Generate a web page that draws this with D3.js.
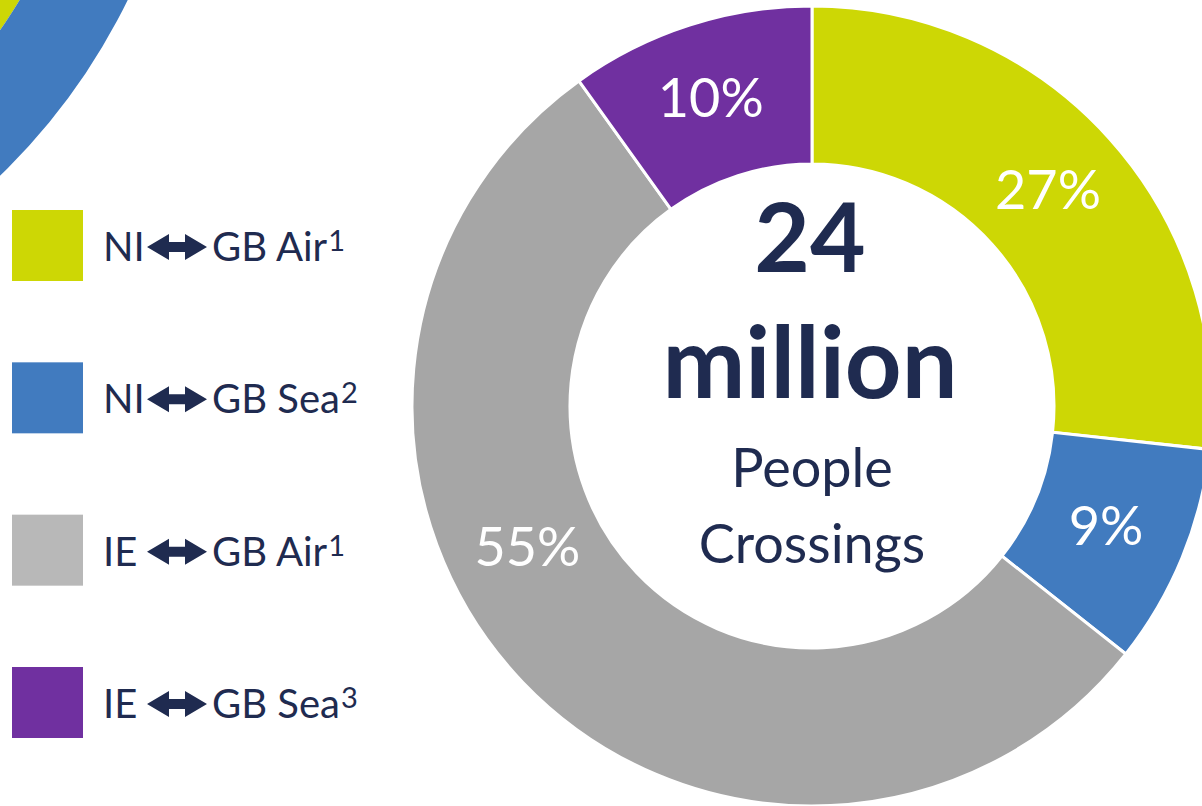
<!DOCTYPE html>
<html lang="en">
<head>
    <meta charset="UTF-8" />
    <title>People Crossings</title>
    <script src="https://d3js.org/d3.v7.min.js"></script>
    <style>
        body {
            margin: 0;
            background: #ffffff;
            font-family: Lato, "Open Sans", sans-serif;
        }
        svg {
            display: block;
        }
    </style>
</head>
<body>
<div id="chart"></div>

<script>
    // Chart data
    const origins = ["NI", "NI", "IE", "IE"];
    const routes = ["GB Air", "GB Sea", "GB Air", "GB Sea"];
    const footnotes = ["1", "2", "1", "3"];
    const shares = [27, 9, 55, 10];
    const totalLines = ["24", "million"];
    const subtitleLines = ["People", "Crossings"];

    const sliceColors = ["#cdd705", "#417bbf", "#a6a6a6", "#7030a0"];
    const legendColors = ["#cdd705", "#417bbf", "#b8b8b8", "#7030a0"];
    const navy = "#1f2b50";

    const width = 1202, height = 806;
    const cx = 812, cy = 406;
    const outerR = 400, innerR = 242;

    const svg = d3.select("#chart").append("svg")
        .attr("width", width)
        .attr("height", height);

    // Decorative rings peeking in from the top-left corner
    const deco = svg.append("g").attr("transform", "translate(-434,-274)");
    deco.append("path")
        .attr("d", d3.arc()({ innerRadius: 440, outerRadius: 530, startAngle: 0, endAngle: 2 * Math.PI }))
        .attr("fill", sliceColors[0]);
    deco.append("path")
        .attr("d", d3.arc()({ innerRadius: 530, outerRadius: 625, startAngle: 0, endAngle: 2 * Math.PI }))
        .attr("fill", sliceColors[1]);

    // Donut
    const pie = d3.pie().sort(null).value(d => d);
    const arcs = pie(shares);
    const arc = d3.arc().innerRadius(innerR).outerRadius(outerR);
    const labelR = (innerR + outerR) / 2;

    const gDonut = svg.append("g").attr("transform", `translate(${cx},${cy})`);

    gDonut.selectAll("path.slice")
        .data(arcs)
        .join("path")
        .attr("class", "slice")
        .attr("d", arc)
        .attr("fill", (d, i) => sliceColors[i])
        .attr("stroke", "#ffffff")
        .attr("stroke-width", 3)
        .attr("stroke-linejoin", "miter");

    // label position: middle of the ring; the big slice label sits lower-left like the source
    function labelPos(d, i) {
        let a = (d.startAngle + d.endAngle) / 2;
        let r = labelR;
        if (shares[i] === d3.max(shares)) {
            a = 243 * Math.PI / 180;
            r = 316;
        }
        return [r * Math.sin(a), -r * Math.cos(a)];
    }

    gDonut.selectAll("text.pct")
        .data(arcs)
        .join("text")
        .attr("class", "pct")
        .attr("x", (d, i) => labelPos(d, i)[0] - 3)
        .attr("y", (d, i) => labelPos(d, i)[1] + 17)
        .attr("text-anchor", "middle")
        .attr("fill", "#ffffff")
        .attr("font-size", 54)
        .text(d => `${d.data}%`);

    // Centre text
    const gCentre = svg.append("g").attr("transform", `translate(${cx},0)`);
    gCentre.selectAll("text.big")
        .data(totalLines)
        .join("text")
        .attr("class", "big")
        .attr("x", -2)
        .attr("y", (d, i) => [272, 398][i])
        .attr("text-anchor", "middle")
        .attr("font-weight", 700)
        .attr("font-size", (d, i) => [96, 99][i])
        .attr("fill", navy)
        .text(d => d);
    gCentre.selectAll("text.sub")
        .data(subtitleLines)
        .join("text")
        .attr("class", "sub")
        .attr("y", (d, i) => [487, 563][i])
        .attr("text-anchor", "middle")
        .attr("font-size", 54)
        .attr("fill", navy)
        .text(d => d);

    // Legend
    const legendY = d3.scalePoint().domain(d3.range(shares.length)).range([210, 667]);

    const legend = svg.append("g").selectAll("g")
        .data(d3.range(shares.length))
        .join("g")
        .attr("transform", i => `translate(0,${legendY(i)})`);

    legend.append("rect")
        .attr("x", 12)
        .attr("width", 71)
        .attr("height", 71)
        .attr("fill", i => legendColors[i]);

    legend.append("text")
        .attr("x", 103)
        .attr("y", 51)
        .attr("font-size", 40)
        .attr("fill", navy)
        .text(i => origins[i]);

    // double-headed arrow
    legend.append("path")
        .attr("d", "M147,37 L169,24 L169,32 L185,32 L185,24 L207,37 L185,50 L185,42 L169,42 L169,50 Z")
        .attr("fill", navy);

    const rt = legend.append("text")
        .attr("x", 212)
        .attr("y", 51)
        .attr("font-size", 40)
        .attr("fill", navy);
    rt.append("tspan").text(i => routes[i]);
    rt.append("tspan")
        .attr("dx", 1)
        .attr("dy", -10)
        .attr("font-size", 29)
        .text(i => footnotes[i]);
</script>
</body>
</html>
